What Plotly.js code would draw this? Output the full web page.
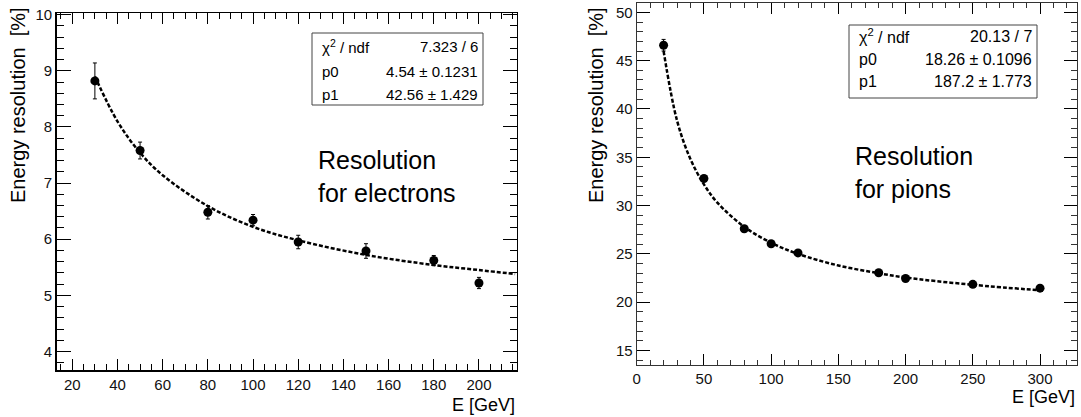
<!DOCTYPE html>
<html>
<head>
<meta charset="utf-8">
<script src="https://cdn.plot.ly/plotly-3.0.1.min.js"></script>
<style>html,body{margin:0;padding:0;background:#fff;}#chart{width:1081px;height:417px;}</style>
</head>
<body>
<div id="chart"></div>
<script>
// ---------- data ----------
const electronE   = [30, 50, 80, 100, 120, 150, 180, 200];
const electronRes = [8.82, 7.58, 6.48, 6.34, 5.95, 5.79, 5.62, 5.22];
const electronErr = [0.32, 0.15, 0.12, 0.10, 0.12, 0.13, 0.09, 0.10];

const electronFitE   = [30, 40, 50, 60, 80, 100, 120, 150, 180, 200, 216];
const electronFitRes = [8.9, 8.1, 7.54, 7.14, 6.59, 6.22, 5.98, 5.72, 5.54, 5.45, 5.38];

const pionE   = [20, 50, 80, 100, 120, 180, 200, 250, 300];
const pionRes = [46.6, 32.8, 27.6, 26.05, 25.1, 23.05, 22.45, 21.85, 21.45];
const pionErr = [0.6, 0.3, 0.3, 0.25, 0.25, 0.2, 0.2, 0.2, 0.2];

const pionFitE   = [20, 30, 40, 50, 60, 80, 100, 120, 150, 180, 200, 250, 303];
const pionFitRes = [46.0, 38.8, 34.8, 32.2, 30.3, 27.8, 26.15, 25.0, 23.8, 23.0, 22.55, 21.8, 21.2];

const statLabels     = ["χ<sup>2</sup> / ndf", "p0", "p1"];
const electronStats  = ["7.323 / 6", "4.54 ± 0.1231", "42.56 ± 1.429"];
const pionStats      = ["20.13 / 7", "18.26 ± 0.1096", "187.2 ± 1.773"];

const xTitle = "E [GeV]";
const yTitle = "Energy resolution\u00a0\u00a0[%]";
const electronLabel = "Resolution<br>for electrons";
const pionLabel = "Resolution<br>for pions";

// ---------- layout helpers ----------
const W = 1081, H = 417;
const px = v => v / W;
const py = v => 1 - v / H;
const FONT = "Liberation Sans, Arial, Helvetica, sans-serif";

const traces = [
  {x: electronFitE, y: electronFitRes, xaxis: 'x', yaxis: 'y', mode: 'lines',
   line: {color: '#000', width: 2.5, dash: '4px,2px', shape: 'spline'}, hoverinfo: 'skip'},
  {x: electronE, y: electronRes, xaxis: 'x', yaxis: 'y', mode: 'markers',
   marker: {color: '#000', size: 9},
   error_y: {type: 'data', array: electronErr, color: '#000', thickness: 1, width: 2}},
  {x: pionFitE, y: pionFitRes, xaxis: 'x2', yaxis: 'y2', mode: 'lines',
   line: {color: '#000', width: 2.5, dash: '4px,2px', shape: 'spline'}, hoverinfo: 'skip'},
  {x: pionE, y: pionRes, xaxis: 'x2', yaxis: 'y2', mode: 'markers',
   marker: {color: '#000', size: 9},
   error_y: {type: 'data', array: pionErr, color: '#000', thickness: 1, width: 2}}
];

function axis(opts) {
  return Object.assign({
    showgrid: false, zeroline: false, showline: true, linecolor: '#000',
    mirror: 'ticks', ticks: 'inside', tickcolor: '#000', tickmode: 'linear',
    tickfont: {family: FONT, size: 15, color: '#111'}, fixedrange: true
  }, opts);
}

const layout = {
  width: W, height: H,
  margin: {l: 0, r: 0, t: 0, b: 0},
  paper_bgcolor: '#fff', plot_bgcolor: '#fff',
  showlegend: false,
  font: {family: FONT, color: '#000'},
  xaxis: axis({domain: [px(56.7), px(516.7)], range: [13.1, 216.7], anchor: 'y',
    tick0: 20, dtick: 20, ticklen: 11, linewidth: 1.5,
    minor: {dtick: 5, ticklen: 6, ticks: 'inside', tickcolor: '#000', showgrid: false}}),
  yaxis: axis({domain: [py(370), py(13)], range: [3.67, 10.03], anchor: 'x',
    tick0: 0, dtick: 1, ticklen: 14, linewidth: 1.5,
    minor: {dtick: 0.2, ticklen: 7, ticks: 'inside', tickcolor: '#000', showgrid: false}}),
  xaxis2: axis({domain: [px(636.7), px(1077)], range: [0, 327.5], anchor: 'y2',
    tick0: 0, dtick: 50, ticklen: 11, linewidth: 1, linecolor: '#333',
    minor: {dtick: 10, ticklen: 5, ticks: 'inside', tickcolor: '#333', showgrid: false}}),
  yaxis2: axis({domain: [py(365), py(2.7)], range: [13.5, 51], anchor: 'x2',
    tick0: 0, dtick: 5, ticklen: 13, linewidth: 1, linecolor: '#333',
    minor: {dtick: 1, ticklen: 6, ticks: 'inside', tickcolor: '#333', showgrid: false}}),
  shapes: [
    {type: 'rect', xref: 'paper', yref: 'paper', x0: px(312), x1: px(483), y0: py(105), y1: py(33),
     line: {color: '#444', width: 1}, fillcolor: '#fff'},
    {type: 'rect', xref: 'paper', yref: 'paper', x0: px(849), x1: px(1037), y0: py(98), y1: py(25),
     line: {color: '#444', width: 1}, fillcolor: '#fff'}
  ],
  annotations: []
};

const ann = layout.annotations;
const rowsL = [46.5, 71, 94.5];
const rowsR = [36, 59.5, 81.5];
statLabels.forEach((lab, i) => {
  ann.push({xref: 'paper', yref: 'paper', x: px(320), y: py(rowsL[i]), xanchor: 'left', yanchor: 'middle',
    text: lab, showarrow: false, font: {family: FONT, size: 15, color: '#000'}});
  ann.push({xref: 'paper', yref: 'paper', x: px(480), y: py(rowsL[i]), xanchor: 'right', yanchor: 'middle',
    text: electronStats[i], showarrow: false, font: {family: FONT, size: 15, color: '#000'}});
  ann.push({xref: 'paper', yref: 'paper', x: px(857), y: py(rowsR[i]), xanchor: 'left', yanchor: 'middle',
    text: lab, showarrow: false, font: {family: FONT, size: 16, color: '#000'}});
  ann.push({xref: 'paper', yref: 'paper', x: px(1034), y: py(rowsR[i]), xanchor: 'right', yanchor: 'middle',
    text: pionStats[i], showarrow: false, font: {family: FONT, size: 16, color: '#000'}});
});

ann.push({xref: 'paper', yref: 'paper', x: px(316), y: py(144), xanchor: 'left', yanchor: 'top', align: 'left',
  text: electronLabel, showarrow: false, font: {family: FONT, size: 25, color: '#000'}});
ann.push({xref: 'paper', yref: 'paper', x: px(853), y: py(140), xanchor: 'left', yanchor: 'top', align: 'left',
  text: pionLabel, showarrow: false, font: {family: FONT, size: 25, color: '#000'}});

// axis titles
ann.push({xref: 'paper', yref: 'paper', x: px(517), y: py(405), xanchor: 'right', yanchor: 'middle',
  text: xTitle, showarrow: false, font: {family: FONT, size: 18, color: '#000'}});
ann.push({xref: 'paper', yref: 'paper', x: px(1077), y: py(397), xanchor: 'right', yanchor: 'middle',
  text: xTitle, showarrow: false, font: {family: FONT, size: 18, color: '#000'}});
ann.push({xref: 'paper', yref: 'paper', x: px(18), y: py(5), xanchor: 'center', yanchor: 'top', textangle: -90,
  text: yTitle, showarrow: false, font: {family: FONT, size: 20, color: '#000'}});
ann.push({xref: 'paper', yref: 'paper', x: px(596), y: py(5), xanchor: 'center', yanchor: 'top', textangle: -90,
  text: yTitle, showarrow: false, font: {family: FONT, size: 20, color: '#000'}});

Plotly.newPlot('chart', traces, layout, {displayModeBar: false, staticPlot: true});
</script>
</body>
</html>
